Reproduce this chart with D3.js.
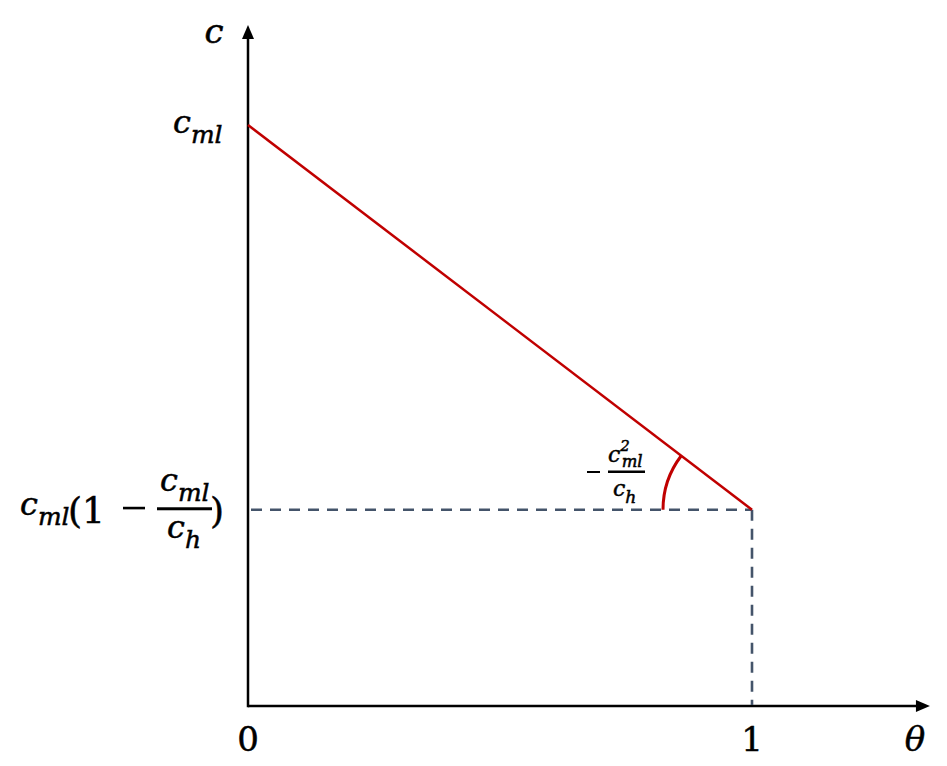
<!DOCTYPE html>
<html>
<head>
<meta charset="utf-8">
<script src="https://cdn.jsdelivr.net/npm/d3@7"></script>
<style>
  body { margin: 0; background: #fff; }
  text { font-family: "DejaVu Serif", serif; fill: #000; stroke: #000; stroke-width: 0.5; }
  .it { font-style: italic; }
</style>
</head>
<body>
<svg id="chart" width="947" height="766"></svg>
<script>
// data
const thetaTicks = [0, 1];
const tickLabels = ["0", "1"];
const cMl = 1.0;   // c_ml
const cH = 1.51;   // c_h
const cLow = cMl * (1 - cMl / cH);
const lineTheta = [0, 1];
const lineC = [cMl, cLow];

const svg = d3.select("#chart");
const x = d3.scaleLinear().domain([0, 1]).range([248, 752]);
const y = d3.scaleLinear().domain([0, 1]).range([706, 125]);
const xMax = 1.353, yMax = 1.172;

// axes with arrow heads
svg.append("line")
  .attr("x1", x(0)).attr("y1", y(0)).attr("x2", x(xMax) - 12).attr("y2", y(0))
  .attr("stroke", "#000").attr("stroke-width", 2.5);
svg.append("line")
  .attr("x1", x(0)).attr("y1", y(0) + 1.25).attr("x2", x(0)).attr("y2", y(yMax) + 12)
  .attr("stroke", "#000").attr("stroke-width", 2.5);
svg.append("path")
  .attr("d", `M${x(xMax)},${y(0)} L${x(xMax) - 14},${y(0) - 6} L${x(xMax) - 14},${y(0) + 6} Z`)
  .attr("fill", "#000");
svg.append("path")
  .attr("d", `M${x(0)},${y(yMax)} L${x(0) - 6},${y(yMax) + 14} L${x(0) + 6},${y(yMax) + 14} Z`)
  .attr("fill", "#000");

// dashed guides
const dash = svg.append("g").attr("stroke", "#44546a").attr("stroke-width", 2.6)
  .attr("stroke-dasharray", "11,8").attr("fill", "none");
dash.append("line").attr("x1", x(0) + 3).attr("y1", y(cLow)).attr("x2", x(1)).attr("y2", y(cLow));
dash.append("line").attr("x1", x(1)).attr("y1", y(cLow)).attr("x2", x(1)).attr("y2", y(0) - 1);

// red line
svg.append("path")
  .datum(d3.zip(lineTheta, lineC))
  .attr("d", d3.line().x(d => x(d[0])).y(d => y(d[1])))
  .attr("stroke", "#c00000").attr("stroke-width", 2.5).attr("fill", "none");

// angle arc
const ang = Math.atan2(y(cLow) - y(cMl), x(1) - x(0));
const p = d3.path();
p.arc(x(1), y(cLow), 89, Math.PI, Math.PI + ang, false);
svg.append("path").attr("d", p.toString())
  .attr("stroke", "#c00000").attr("stroke-width", 3).attr("fill", "none");

// tick labels
svg.selectAll(".tick").data(thetaTicks).join("text")
  .attr("x", d => x(d)).attr("y", 751)
  .attr("text-anchor", "middle").attr("font-size", 34)
  .text((d, i) => tickLabels[i]);

svg.append("text").attr("class", "it").attr("x", 915).attr("y", 751)
  .attr("text-anchor", "middle").attr("font-size", 34).text("θ");
svg.append("text").attr("class", "it").attr("x", 214).attr("y", 43)
  .attr("text-anchor", "middle").attr("font-size", 34).text("c");

// helper: c with subscript
function cSub(g, px, py, sub, size, sup) {
  const t = g.append("text").attr("class", "it").attr("x", px).attr("y", py).attr("font-size", size);
  t.append("tspan").text("c");
  if (sup) {
    t.append("tspan").attr("font-size", size * 0.68).attr("dy", -size * 0.5).text(sup);
    t.append("tspan").attr("font-size", size * 0.75).attr("x", px + size * 0.62).attr("dy", size * 0.72).text(sub);
  } else {
    t.append("tspan").attr("font-size", size * 0.78).attr("dy", size * 0.32).text(sub);
  }
  return t;
}

// c_ml on y axis
cSub(svg, 173, y(cMl) + 8, "ml", 32);

// c_ml(1 - c_ml/c_h)
const yl = y(cLow);
cSub(svg, 20, yl + 5, "ml", 32);
svg.append("text").attr("x", 68).attr("y", yl + 13).attr("font-size", 36).text("(1");
svg.append("rect").attr("x", 123).attr("width", 22).attr("y", yl - 3).attr("height", 2.6)
  .attr("fill", "#000");
svg.append("rect").attr("x", 157).attr("width", 55).attr("y", yl - 2.5).attr("height", 3)
  .attr("fill", "#000");
cSub(svg, 160, yl - 19, "ml", 32);
cSub(svg, 167, yl + 28, "h", 32);
svg.append("text").attr("x", 210).attr("y", yl + 13).attr("font-size", 36).text(")");

// slope label -c_ml^2/c_h
svg.append("rect").attr("x", 587).attr("width", 13).attr("y", 471).attr("height", 2)
  .attr("fill", "#000");
svg.append("rect").attr("x", 608).attr("width", 37).attr("y", 470.5).attr("height", 2.5)
  .attr("fill", "#000");
cSub(svg, 608, 462, "ml", 22, "2");
cSub(svg, 613, 496, "h", 22);
</script>
</body>
</html>
